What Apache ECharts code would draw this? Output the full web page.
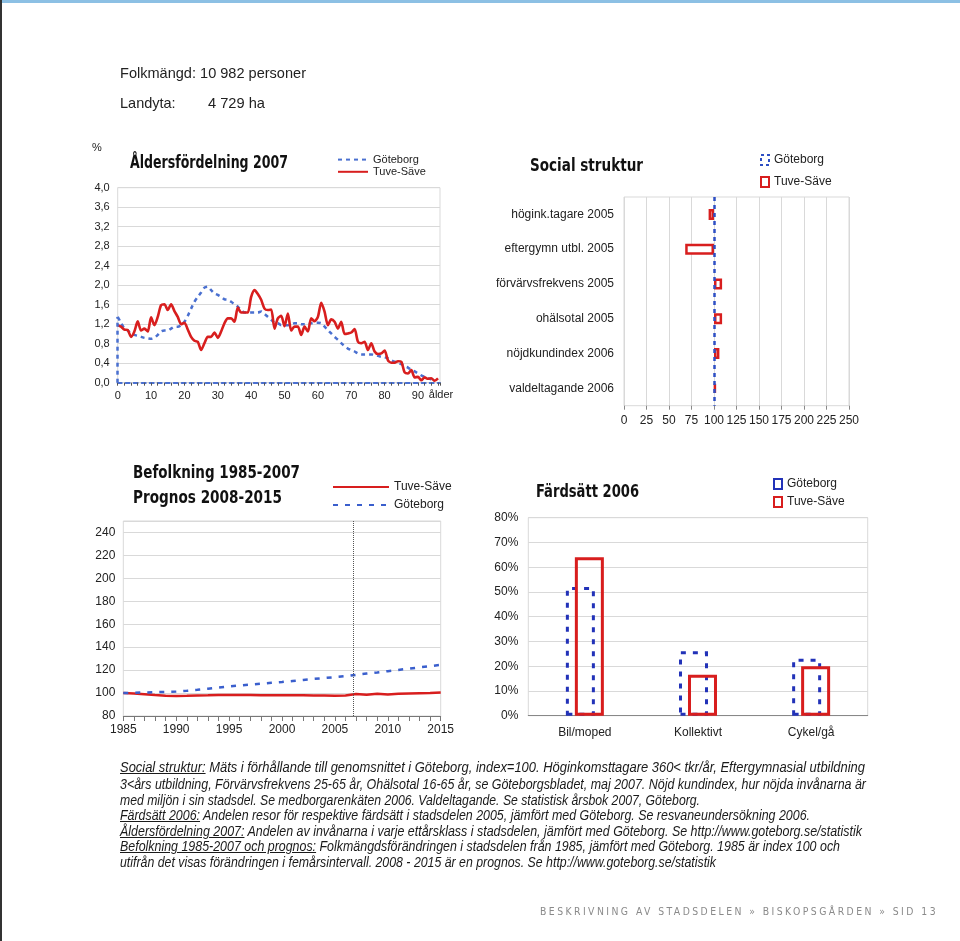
<!DOCTYPE html>
<html><head><meta charset="utf-8">
<script src="https://cdn.jsdelivr.net/npm/echarts@6/dist/echarts.min.js"></script>
<style>
html,body{margin:0;padding:0;background:#fff;}
#page{position:relative;width:960px;height:941px;overflow:hidden;background:#fff;}
.ch{position:absolute;left:0;top:0;width:960px;height:941px;}
.txt{position:absolute;white-space:nowrap;font-family:'Liberation Sans',Arial,sans-serif;color:#222;transform-origin:0 50%;}
.ttl{font-family:'DejaVu Sans Condensed','DejaVu Sans',sans-serif;font-weight:bold;font-size:18px;line-height:22px;color:#111;}
.fn{font-family:'Liberation Sans',Arial,sans-serif;font-style:italic;font-size:14px;line-height:16px;color:#1a1a1a;}
.fn u{text-decoration:underline;}
.foot{font-family:'DejaVu Sans Condensed','DejaVu Sans',sans-serif;font-size:11px;letter-spacing:2.6px;color:#8a8a8a;line-height:14px;}
</style></head>
<body>
<div id="page">
  <div style="position:absolute;left:0;top:0;width:960px;height:3px;background:#8cc0e4;"></div>
  <div style="position:absolute;left:0;top:0;width:2px;height:941px;background:#333;"></div>
  <div id="cA" class="ch"></div>
  <div id="cB" class="ch"></div>
  <div id="cC" class="ch"></div>
  <div id="cD" class="ch"></div>

  <div class="txt" style="left:120px;top:64px;font-size:14.5px;line-height:18px;" data-w="186">Folkmängd: 10 982 personer</div>
  <div class="txt" style="left:120px;top:94px;font-size:14.5px;line-height:18px;">Landyta:</div>
  <div class="txt" style="left:208px;top:94px;font-size:14.5px;line-height:18px;" data-w="57">4 729 ha</div>

  <div class="txt ttl" style="left:130px;top:151px;" data-w="158">Åldersfördelning 2007</div>
  <div class="txt ttl" style="left:530px;top:154px;" data-w="113">Social struktur</div>
  <div class="txt ttl" style="left:133px;top:461px;" data-w="167">Befolkning 1985-2007</div>
  <div class="txt ttl" style="left:133px;top:486px;" data-w="149">Prognos 2008-2015</div>
  <div class="txt ttl" style="left:536px;top:480px;" data-w="103">Färdsätt 2006</div>

  <div class="txt fn" style="left:120px;top:759px;" data-w="745"><u>Social struktur:</u> Mäts i förhållande till genomsnittet i Göteborg, index=100. Höginkomsttagare 360&lt; tkr/år, Eftergymnasial utbildning</div>
  <div class="txt fn" style="left:120px;top:775.5px;" data-w="746">3&lt;års utbildning, Förvärvsfrekvens 25-65 år, Ohälsotal 16-65 år, se Göteborgsbladet, maj 2007. Nöjd kundindex, hur nöjda invånarna är</div>
  <div class="txt fn" style="left:120px;top:791.5px;" data-w="580">med miljön i sin stadsdel. Se medborgarenkäten 2006. Valdeltagande. Se statistisk årsbok 2007, Göteborg.</div>
  <div class="txt fn" style="left:120px;top:807px;" data-w="690"><u>Färdsätt 2006:</u> Andelen resor för respektive färdsätt i stadsdelen 2005, jämfört med Göteborg. Se resvaneundersökning 2006.</div>
  <div class="txt fn" style="left:120px;top:822.5px;" data-w="742"><u>Åldersfördelning 2007:</u> Andelen av invånarna i varje ettårsklass i stadsdelen, jämfört med Göteborg. Se http://www.goteborg.se/statistik</div>
  <div class="txt fn" style="left:120px;top:838px;" data-w="720"><u>Befolkning 1985-2007 och prognos:</u> Folkmängdsförändringen i stadsdelen från 1985, jämfört med Göteborg. 1985 är index 100 och</div>
  <div class="txt fn" style="left:120px;top:854px;" data-w="596">utifrån det visas förändringen i femårsintervall. 2008 - 2015 är en prognos. Se http://www.goteborg.se/statistik</div>

  <div class="txt foot" style="left:540px;top:905px;" data-w="398">BESKRIVNING AV STADSDELEN » BISKOPSGÅRDEN » SID 13</div>
</div>
<script>
// ---------- DATA ----------
// Åldersfördelning 2007 (% per ettårsklass, ålder 0..)
const ageTuve = [1.18,1.15,1.09,1.08,0.94,1.05,1.26,1.07,1.11,1.05,
 1.34,1.18,1.35,1.59,1.61,1.49,1.61,1.47,1.35,1.20,
 1.23,1.09,0.94,0.86,0.84,0.67,0.81,0.94,0.94,1.03,
 0.92,1.05,1.22,1.32,1.32,1.25,1.54,1.44,1.44,1.44,
 1.76,1.90,1.82,1.70,1.52,1.49,1.50,1.11,1.32,1.37,
 1.16,1.42,1.07,1.15,1.15,0.98,1.15,1.05,1.32,1.26,
 1.35,1.64,1.46,1.18,1.30,1.25,1.11,1.25,1.00,1.01,
 1.03,1.10,0.84,0.81,0.84,0.67,0.81,0.64,0.59,0.60,
 0.66,0.46,0.41,0.41,0.44,0.43,0.21,0.19,0.26,0.11,
 0.12,0.05,0.11,0.08,0.09,0.04,0.09];
const ageGbg = [1.35,1.23,1.11,1.07,1.01,0.98,0.96,0.94,0.92,0.91,
 0.90,0.92,0.98,1.05,1.07,1.07,1.11,1.15,1.15,1.18,
 1.25,1.37,1.52,1.66,1.76,1.85,1.95,1.97,1.90,1.83,
 1.80,1.76,1.71,1.70,1.66,1.61,1.56,1.49,1.44,1.44,
 1.44,1.44,1.44,1.46,1.41,1.35,1.29,1.23,1.22,1.18,
 1.18,1.18,1.20,1.22,1.22,1.20,1.20,1.20,1.22,1.23,
 1.23,1.22,1.15,1.08,1.01,0.94,0.88,0.81,0.75,0.70,
 0.67,0.64,0.60,0.58,0.58,0.58,0.58,0.57,0.55,0.53,
 0.52,0.50,0.46,0.43,0.41,0.38,0.34,0.31,0.26,0.23,
 0.19,0.15,0.12,0.09,0.07,0.05];

// Social struktur (index, Göteborg = 100)
const socialCats = ['högink.tagare 2005','eftergymn utbl. 2005','förvärvsfrekvens 2005','ohälsotal 2005','nöjdkundindex 2006','valdeltagande 2006'];
const socialTuve = [94, 68, 109, 109, 106, 102];
const socialGbg = 100;

// Befolkning 1985-2015 (index 1985 = 100)
const befYears = [1985,1986,1987,1988,1989,1990,1991,1992,1993,1994,1995,1996,1997,1998,1999,2000,
 2001,2002,2003,2004,2005,2006,2007,2008,2009,2010,2011,2012,2013,2014,2015];
const befTuve = [100,99.6,99.0,98.3,97.7,97.4,97.6,97.9,98.0,98.2,98.3,98.3,98.2,98.0,98.0,98.0,
 98.0,98.0,97.9,97.8,97.7,97.8,99.1,98.6,99.4,98.8,99.3,99.6,99.8,100.0,100.4];
const befGbg = [100,100.2,100.5,100.8,101.0,101.3,102.0,102.8,103.8,104.8,105.8,106.6,107.4,108.2,108.9,109.6,
 110.5,111.4,112.3,113.1,113.9,114.8,115.9,117.0,118.0,119.1,120.2,121.3,122.4,123.5,124.6];
const prognosStart = 2006.75;

// Färdsätt 2006 (%)
const fCats = ['Bil/moped','Kollektivt','Cykel/gå'];
const fGbg = [52, 26, 23];
const fTuve = [64, 16.5, 20];

// ---------- STYLE ----------
const F = "'Liberation Sans', Arial, sans-serif";
const RED = '#d81e1e', BLUE = '#4a70d0', NAVY = '#2232b8';
const GRID = '#d9d9d9';
const lbl = (s)=>({fontFamily:F, fontSize:s, color:'#222'});

function mk(id){ return echarts.init(document.getElementById(id), null, {width:960, height:941}); }

// ---------- A: Åldersfördelning ----------
mk('cA').setOption({
  animation:false,
  legend:{left:337, top:154, orient:'vertical', padding:0, itemWidth:30, itemHeight:14, itemGap:1,
    itemStyle:{opacity:0},
    data:['Göteborg','Tuve-Säve'], textStyle:lbl(11)},
  grid:{left:117.7, top:187.7, width:322.3, height:195, show:true, borderColor:GRID, borderWidth:1},
  xAxis:{type:'value', min:0, max:96.6, interval:10,
    axisLabel:Object.assign({showMaxLabel:false, margin:8}, lbl(11)),
    axisLine:{lineStyle:{color:BLUE, type:[4,4], width:2}},
    axisTick:{show:true, length:3, lineStyle:{color:'#555'}},
    minorTick:{show:true, splitNumber:5, length:3, lineStyle:{color:'#555'}},
    splitLine:{show:false},
    name:'ålder', nameLocation:'end', nameGap:1,
    nameTextStyle:Object.assign({align:'center', verticalAlign:'top', padding:[7,0,0,0]}, lbl(11))},
  yAxis:{type:'value', min:0, max:4, interval:0.4,
    axisLabel:Object.assign({margin:8, formatter:v=>v.toFixed(1).replace('.',',')}, lbl(11)),
    splitLine:{lineStyle:{color:GRID}}, axisLine:{show:false}, axisTick:{show:false},
    name:'%', nameLocation:'end', nameGap:34,
    nameTextStyle:Object.assign({align:'right', padding:[0,16,0,0]}, lbl(11))},
  series:[
    {name:'Göteborg', type:'line', symbol:'none', smooth:0.25,
      data:ageGbg.map((v,i)=>[i,v]),
      lineStyle:{color:BLUE, width:2.5, type:[4,4]}, itemStyle:{color:BLUE},
      markLine:{silent:true, symbol:'none', label:{show:false},
        lineStyle:{color:BLUE, width:2.5, type:[4,4]},
        data:[[{coord:[0,0]},{coord:[0,ageGbg[0]]}]]}},
    {name:'Tuve-Säve', type:'line', symbol:'none', smooth:0.25,
      data:ageTuve.map((v,i)=>[i,v]),
      lineStyle:{color:RED, width:2.6}, itemStyle:{color:RED}}
  ]
});

// ---------- B: Social struktur ----------
mk('cB').setOption({
  animation:false,
  legend:{left:760, top:154, orient:'vertical', padding:0, itemWidth:8, itemHeight:10, itemGap:10,
    data:[{name:'Göteborg', icon:'rect', itemStyle:{color:'rgba(0,0,0,0)', borderColor:'#2e4fc4', borderWidth:2, borderType:[3,3]}},
          {name:'Tuve-Säve', icon:'rect', itemStyle:{color:'#fff', borderColor:RED, borderWidth:2}}],
    textStyle:lbl(12)},
  grid:{left:624, top:197, width:225, height:208.7, show:true, borderColor:GRID, borderWidth:1},
  xAxis:{type:'value', min:0, max:250, interval:25,
    axisLabel:Object.assign({margin:9}, lbl(12)),
    splitLine:{lineStyle:{color:GRID}},
    axisLine:{lineStyle:{color:'#888'}}, axisTick:{show:true, length:4, lineStyle:{color:'#888'}}},
  yAxis:{type:'category', inverse:true, data:socialCats,
    axisLine:{show:false}, axisTick:{show:false}, axisLabel:Object.assign({margin:10}, lbl(12))},
  series:[
    {name:'bas', type:'bar', stack:'s', barWidth:11, silent:true,
      data:socialTuve.map(v=>Math.min(v, socialGbg)), itemStyle:{color:'rgba(0,0,0,0)'}},
    {name:'Tuve-Säve', type:'bar', stack:'s', barWidth:11,
      data:socialTuve.map(v=>Math.abs(v-socialGbg)),
      itemStyle:{color:'#fff', borderColor:RED, borderWidth:2.5}},
    {name:'Göteborg', type:'line', data:[], itemStyle:{color:'#2e4fc4'},
      markLine:{silent:true, symbol:'none', label:{show:false},
        lineStyle:{color:'#2e4fc4', width:2.5, type:[4,4]},
        data:[{xAxis:socialGbg}]}}
  ]
});

// ---------- C: Befolkning ----------
mk('cC').setOption({
  animation:false,
  legend:{left:332, top:481, orient:'vertical', padding:0, itemWidth:56, itemHeight:14, itemGap:6,
    itemStyle:{opacity:0},
    data:['Tuve-Säve','Göteborg'], textStyle:lbl(12)},
  grid:{left:123.3, top:521, width:317.4, height:195, show:true, borderColor:GRID, borderWidth:1},
  xAxis:{type:'value', min:1985, max:2015, interval:5,
    axisLabel:Object.assign({margin:8, formatter:v=>String(v)}, lbl(12)),
    axisLine:{lineStyle:{color:'#777'}}, axisTick:{length:5, lineStyle:{color:'#777'}},
    minorTick:{show:true, splitNumber:5, length:5, lineStyle:{color:'#777'}},
    splitLine:{show:false}},
  yAxis:{type:'value', min:80, max:250, interval:20,
    axisLabel:Object.assign({margin:8, showMaxLabel:false}, lbl(12)),
    splitLine:{lineStyle:{color:GRID}}, axisLine:{show:false}, axisTick:{show:false}},
  series:[
    {name:'Tuve-Säve', type:'line', symbol:'none', data:befYears.map((y,i)=>[y,befTuve[i]]),
      lineStyle:{color:RED, width:2.5}, itemStyle:{color:RED},
      markLine:{silent:true, symbol:'none', label:{show:false},
        lineStyle:{color:'#555', width:1, type:'dotted'}, data:[{xAxis:prognosStart}]}},
    {name:'Göteborg', type:'line', symbol:'none', data:befYears.map((y,i)=>[y,befGbg[i]]),
      lineStyle:{color:'#3a5fcd', width:2.5, type:[5,7]}, itemStyle:{color:'#3a5fcd'}}
  ]
});

// ---------- D: Färdsätt ----------
mk('cD').setOption({
  animation:false,
  legend:{left:773, top:478, orient:'vertical', padding:0, itemWidth:8, itemHeight:10, itemGap:6,
    data:[{name:'Göteborg', icon:'rect'},{name:'Tuve-Säve', icon:'rect'}], textStyle:lbl(12)},
  grid:{left:528.3, top:517.7, width:339.4, height:198, show:true, borderColor:GRID, borderWidth:1},
  xAxis:{type:'category', data:fCats,
    axisLine:{lineStyle:{color:'#888'}}, axisTick:{length:5, lineStyle:{color:'#888'}},
    axisLabel:Object.assign({margin:11}, lbl(12))},
  yAxis:{type:'value', min:0, max:80, interval:10,
    axisLabel:Object.assign({margin:10, formatter:'{value}%'}, lbl(12)),
    splitLine:{lineStyle:{color:GRID}}, axisLine:{show:false}, axisTick:{show:false}},
  series:[
    {name:'Göteborg', type:'bar', data:fGbg, barWidth:29, barGap:'-69%',
      itemStyle:{color:'rgba(0,0,0,0)', borderColor:NAVY, borderWidth:3, borderType:[5,7]}},
    {name:'Tuve-Säve', type:'bar', data:fTuve, barWidth:29,
      itemStyle:{color:'rgba(0,0,0,0)', borderColor:RED, borderWidth:3}}
  ]
});

// fit text widths to the reference
document.querySelectorAll('[data-w]').forEach(el=>{
  const w = el.getBoundingClientRect().width;
  const t = +el.dataset.w;
  if (w > 0) el.style.transform = 'scaleX(' + (t / w) + ')';
});
</script>
</body></html>
